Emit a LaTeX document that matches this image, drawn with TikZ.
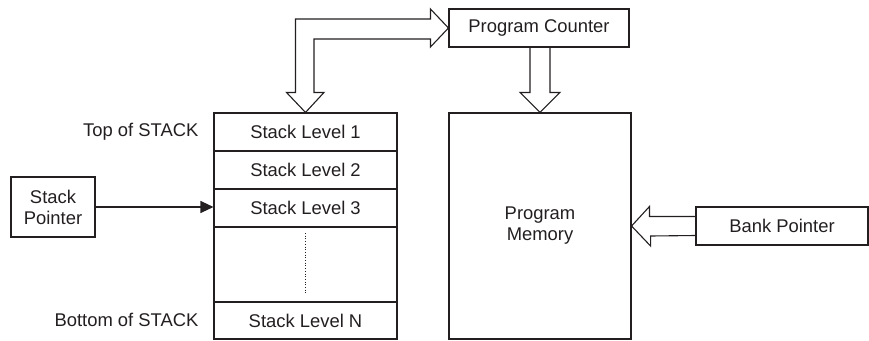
\documentclass[tikz,border=0pt]{standalone}
\usepackage{fontspec}
\setmainfont{Liberation Sans}
\usetikzlibrary{arrows.meta}
\definecolor{ink}{HTML}{231F20}
\begin{document}
\begin{tikzpicture}[x=1pt,y=-1pt,line width=1.1pt,draw=ink,text=ink,
  every node/.style={font=\fontsize{18.4}{21}\selectfont,inner sep=0pt,align=center},
  blk/.style 2 args={draw=ink,minimum width=#1,minimum height=#2},
  hollow/.style={draw=ink,line width=1.1pt,line join=miter}]
\useasboundingbox (0,0) rectangle (869,340);
% boxes
\node[blk={180pt}{38pt}] (pc) at (539,28) {Program Counter};
\node[blk={183pt}{38pt}] (l1) at (305.5,132) {Stack Level 1};
\node[blk={183pt}{38pt}] (l2) at (305.5,170) {Stack Level 2};
\node[blk={183pt}{38pt}] (l3) at (305.5,208) {Stack Level 3};
\node[blk={183pt}{75pt}] (gap) at (305.5,264.5) {};
\node[blk={183pt}{37pt}] (ln) at (305.5,320.5) {Stack Level N};
\node[blk={84pt}{60pt}] (sp) at (53,207) {Stack\\Pointer};
\node[blk={182pt}{226pt}] (pm) at (540,226) {Program\\Memory};
\node[blk={172pt}{38pt}] (bp) at (782,226) {Bank Pointer};
% labels
\node[anchor=east] (top) at (199,132) {Top of STACK};
\node[anchor=east] (bot) at (199,320) {Bottom of STACK};
% dotted
\coordinate (d1) at (305.5,233);
\coordinate (d2) at (305.5,294);
\draw[dotted,line width=0.7pt] (d1) -- (d2);
% stack pointer arrow
\draw[-{Triangle[length=13pt,width=12pt]}] (sp.east) -- (sp.east -| l3.west);
% hollow arrow stack <-> PC
\draw[hollow] (l1.north) -- ++(-19,-20) -- ++(9,0) |- ([xshift=-18pt,yshift=9pt]pc.west)
  -- ++(0,-10) -- (pc.west) -- ++(-18,19) -- ++(0,-8) -| ([xshift=8.5pt,yshift=20pt]l1.north)
  -- ++(10,0) -- cycle;
% hollow arrow PC -> PM
\draw[hollow] (pm.north) -- ++(-20,-20) -- ++(10,0) -- ([xshift=-9pt]pc.south)
  ([xshift=11pt]pc.south) -- ([xshift=10pt,yshift=20pt]pm.north) -- ++(10,0) -- (pm.north);
% hollow arrow BP -> PM
\draw[hollow] ([yshift=9.5pt]bp.west) -- ++(-46,0) -- ++(0,-10) -- (pm.east) -- ++(19,20)
  -- ++(0,-10) -- ([yshift=-9.5pt]bp.west);
\end{tikzpicture}
\end{document}
